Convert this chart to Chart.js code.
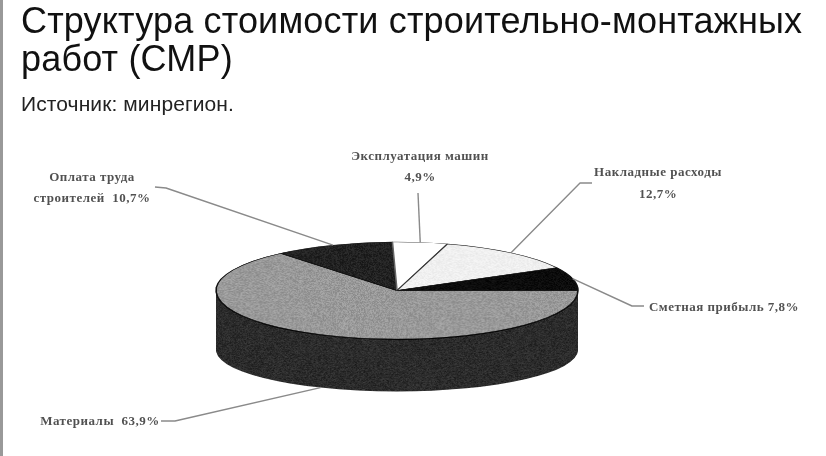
<!DOCTYPE html>
<html lang="ru">
<head>
<meta charset="utf-8">
<style>
html,body{margin:0;padding:0;background:#fff;width:826px;height:456px;overflow:hidden}
#wrap{position:relative;width:826px;height:456px}
canvas{position:absolute;left:0;top:0}
#rule{position:absolute;left:0;top:0;width:3px;height:456px;background:#999}
.t{position:absolute;white-space:nowrap;font-family:"Liberation Sans",sans-serif;color:#111}
#title{left:21px;top:2px;font-size:36px;line-height:37.5px;letter-spacing:.17px}
#source{left:21px;top:92px;font-size:21px;line-height:24px;color:#222;letter-spacing:.1px}
.lab{position:absolute;white-space:nowrap;font-family:"Liberation Serif",serif;font-size:13px;line-height:14px;color:#333;font-weight:bold;letter-spacing:.5px;filter:blur(.45px);transform:translate(-50%,-50%);opacity:.85}
</style>
</head>
<body>
<div id="wrap">
<canvas id="c" width="826" height="456"></canvas>
<div id="rule"></div>
<div class="t" id="title">Структура стоимости строительно-монтажных<br>работ (СМР)</div>
<div class="t" id="source">Источник: минрегион.</div>
<div class="lab" style="left:92px;top:177px">Оплата труда</div>
<div class="lab" style="left:92px;top:198px">строителей&nbsp; 10,7%</div>
<div class="lab" style="left:420px;top:156px">Эксплуатация машин</div>
<div class="lab" style="left:420px;top:177px">4,9%</div>
<div class="lab" style="left:658px;top:172px">Накладные расходы</div>
<div class="lab" style="left:658px;top:194px">12,7%</div>
<div class="lab" style="left:724px;top:307px">Сметная прибыль 7,8%</div>
<div class="lab" style="left:100px;top:421px">Материалы&nbsp; 63,9%</div>
</div>
<script src="https://cdn.jsdelivr.net/npm/chart.js@4"></script>
<script>
const categories = ["Материалы","Оплата труда строителей","Эксплуатация машин","Накладные расходы","Сметная прибыль"];
const shares = [63.9,10.7,4.9,12.7,7.8];

const FACE = {cx:397, cy:290.5, rx:181, ry:48.5};
const BASE = {cy:350, ry:41.5};
const LAYERS = 60;
const R0 = 228;

// leader routes: [slice index, rim ('top'|'base'), elbow point, label-side end]
const leaders = [
  [0,'base',[175,421],[161,421]],
  [1,'top',[166,188],[155,187]],
  [2,'top',[418,193],[418,193]],
  [3,'top',[580,183],[592,183]],
  [4,'top',[632,306],[644,306]]
];

function hash(x,y){const s=Math.sin(x*12.9898+y*78.233)*43758.5453;return s-Math.floor(s);}
function tile(base,amp,sx,sy){
  const n=96,c=document.createElement('canvas');c.width=n;c.height=n;
  const g=c.getContext('2d'),im=g.createImageData(n,n);
  for(let y=0;y<n;y++)for(let x=0;x<n;x++){
    const h=hash(x,y),v=Math.max(0,Math.min(255,base+(h-.5)*2*amp));
    const i=(y*n+x)*4;im.data[i]=im.data[i+1]=im.data[i+2]=v;im.data[i+3]=255;
  }
  g.putImageData(im,0,0);
  const p=g.createPattern(c,'repeat');
  p.setTransform(new DOMMatrix().scale(1/sx,1/sy));
  return p;
}
const sxF=FACE.rx/R0, syF=FACE.ry/R0;
const fills=[tile(153,18,sxF,syF),tile(34,14,sxF,syF),'#ffffff',tile(240,8,sxF,syF),tile(12,10,sxF,syF)];
const sidePattern=tile(44,22,sxF,syF);
const borders=['#111','#111','#666','#333','#111'];

const pseudo3d={
  id:'pseudo3d',
  beforeDatasetsDraw(chart){
    const ctx=chart.ctx, arcs=chart.getDatasetMeta(0).data, a0=arcs[0], R=a0.outerRadius;
    const place=(cy,ry)=>{ctx.translate(FACE.cx,cy);ctx.scale(FACE.rx/R,ry/R);ctx.translate(-a0.x,-a0.y);};
    const paint=(fill)=>arcs.forEach(a=>{
      const o=a.options,b=o.backgroundColor,w=o.borderWidth;
      o.backgroundColor=fill;o.borderWidth=0;a.draw(ctx);o.backgroundColor=b;o.borderWidth=w;
    });
    for(let i=LAYERS;i>=0;i--){
      const t=i/LAYERS;
      ctx.save();
      place(FACE.cy+(BASE.cy-FACE.cy)*t,FACE.ry+(BASE.ry-FACE.ry)*t);
      sidePattern.setTransform(new DOMMatrix().translate(i*37,i*11).scale(1/sxF,1/syF));
      paint(i<=1?'#000':sidePattern);
      ctx.restore();
    }
    ctx.save();
    place(FACE.cy,FACE.ry);
  },
  afterDatasetsDraw(chart){
    const ctx=chart.ctx, arcs=chart.getDatasetMeta(0).data;
    ctx.restore();
    ctx.save();
    ctx.strokeStyle='#8a8a8a';ctx.lineWidth=1.4;ctx.lineJoin='round';
    leaders.forEach(([k,rim,elbow,end])=>{
      const a=arcs[k],m=(a.startAngle+a.endAngle)/2;
      const cy=rim==='top'?FACE.cy:BASE.cy, ry=rim==='top'?FACE.ry:BASE.ry;
      ctx.beginPath();
      ctx.moveTo(FACE.cx+Math.cos(m)*FACE.rx,cy+Math.sin(m)*ry);
      ctx.lineTo(elbow[0],elbow[1]);ctx.lineTo(end[0],end[1]);
      ctx.stroke();
    });
    ctx.restore();
  }
};

new Chart(document.getElementById('c'),{
  type:'pie',
  data:{labels:categories,datasets:[{data:shares,backgroundColor:fills,borderColor:borders,borderWidth:2,clip:false}]},
  options:{
    responsive:false,animation:false,devicePixelRatio:1,rotation:90,
    layout:{padding:0},
    events:[],
    plugins:{legend:{display:false},tooltip:{enabled:false},title:{display:false}}
  },
  plugins:[pseudo3d]
});
</script>
</body>
</html>
